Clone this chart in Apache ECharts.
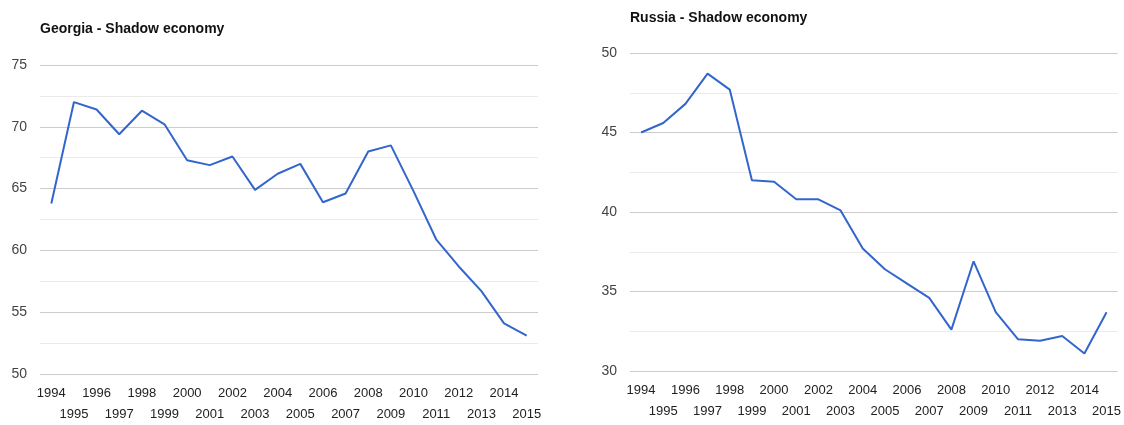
<!DOCTYPE html>
<html>
<head>
<meta charset="utf-8">
<script src="https://cdn.jsdelivr.net/npm/echarts@6/dist/echarts.min.js"></script>
<style>
  html, body { margin: 0; padding: 0; background: #fff; }
  #chart { width: 1124px; height: 425px; }
</style>
</head>
<body>
<div id="chart"></div>
<script>
// Years shown on both category axes
const years = ['1994','1995','1996','1997','1998','1999','2000','2001','2002','2003','2004',
               '2005','2006','2007','2008','2009','2010','2011','2012','2013','2014','2015'];

// Shadow economy, % of GDP
const georgiaShadow = [63.8, 72.0, 71.4, 69.4, 71.3, 70.2, 67.3, 66.9, 67.6, 64.9, 66.2,
                       67.0, 63.9, 64.6, 68.0, 68.5, 64.8, 60.9, 58.7, 56.7, 54.1, 53.1];
const russiaShadow  = [45.0, 45.6, 46.8, 48.7, 47.7, 42.0, 41.9, 40.8, 40.8, 40.1, 37.7,
                       36.4, 35.5, 34.6, 32.6, 36.9, 33.7, 32.0, 31.9, 32.2, 31.1, 33.7];

// Value-axis ranges
const georgiaRange = { min: 50, max: 75, step: 5 };
const russiaRange  = { min: 30, max: 50, step: 5 };

const titles = ['Georgia - Shadow economy', 'Russia - Shadow economy'];

const lineColor = '#3366cc';
const labelFont = '"Liberation Sans", Arial, sans-serif';

function xAxisFor(gridIndex) {
  return {
    type: 'category',
    gridIndex: gridIndex,
    data: years,
    boundaryGap: true,
    axisLine: { show: false },
    axisTick: { show: false },
    axisLabel: {
      interval: 0,
      hideOverlap: false,
      margin: 9,
      fontFamily: labelFont,
      fontSize: 13,
      color: '#222',
      lineHeight: 21,
      verticalAlign: 'top',
      formatter: (v, i) => (i % 2 ? '\n' + v : v)
    }
  };
}

function yAxisFor(gridIndex, range) {
  return {
    type: 'value',
    gridIndex: gridIndex,
    min: range.min,
    max: range.max,
    interval: range.step,
    axisLine: { show: false },
    axisTick: { show: false },
    axisLabel: {
      margin: 13,
      fontFamily: labelFont,
      fontSize: 14,
      color: '#444'
    },
    splitLine: { show: true, lineStyle: { color: '#cccccc', width: 1.2 } },
    minorTick: { show: false, splitNumber: 2 },
    minorSplitLine: { show: true, lineStyle: { color: '#ebebeb', width: 1.2 } }
  };
}

function seriesFor(index, values) {
  return {
    type: 'line',
    xAxisIndex: index,
    yAxisIndex: index,
    data: values,
    symbol: 'none',
    smooth: false,
    animation: false,
    lineStyle: { color: lineColor, width: 2 }
  };
}

const titleStyle = {
  fontFamily: '"Liberation Sans", Arial, sans-serif',
  fontSize: 14,
  fontWeight: 'bold',
  color: '#111',
  lineHeight: 16
};

const chart = echarts.init(document.getElementById('chart'), null, { renderer: 'canvas' });
chart.setOption({
  backgroundColor: '#ffffff',
  animation: false,
  title: [
    { text: titles[0], left: 40, top: 21, padding: 0, textStyle: titleStyle },
    { text: titles[1], left: 630, top: 10, padding: 0, textStyle: titleStyle }
  ],
  grid: [
    { left: 40, right: 586, top: 65, bottom: 48 },
    { left: 630, right: 5, top: 53, bottom: 54 }
  ],
  xAxis: [xAxisFor(0), xAxisFor(1)],
  yAxis: [yAxisFor(0, georgiaRange), yAxisFor(1, russiaRange)],
  series: [seriesFor(0, georgiaShadow), seriesFor(1, russiaShadow)]
});
</script>
</body>
</html>
